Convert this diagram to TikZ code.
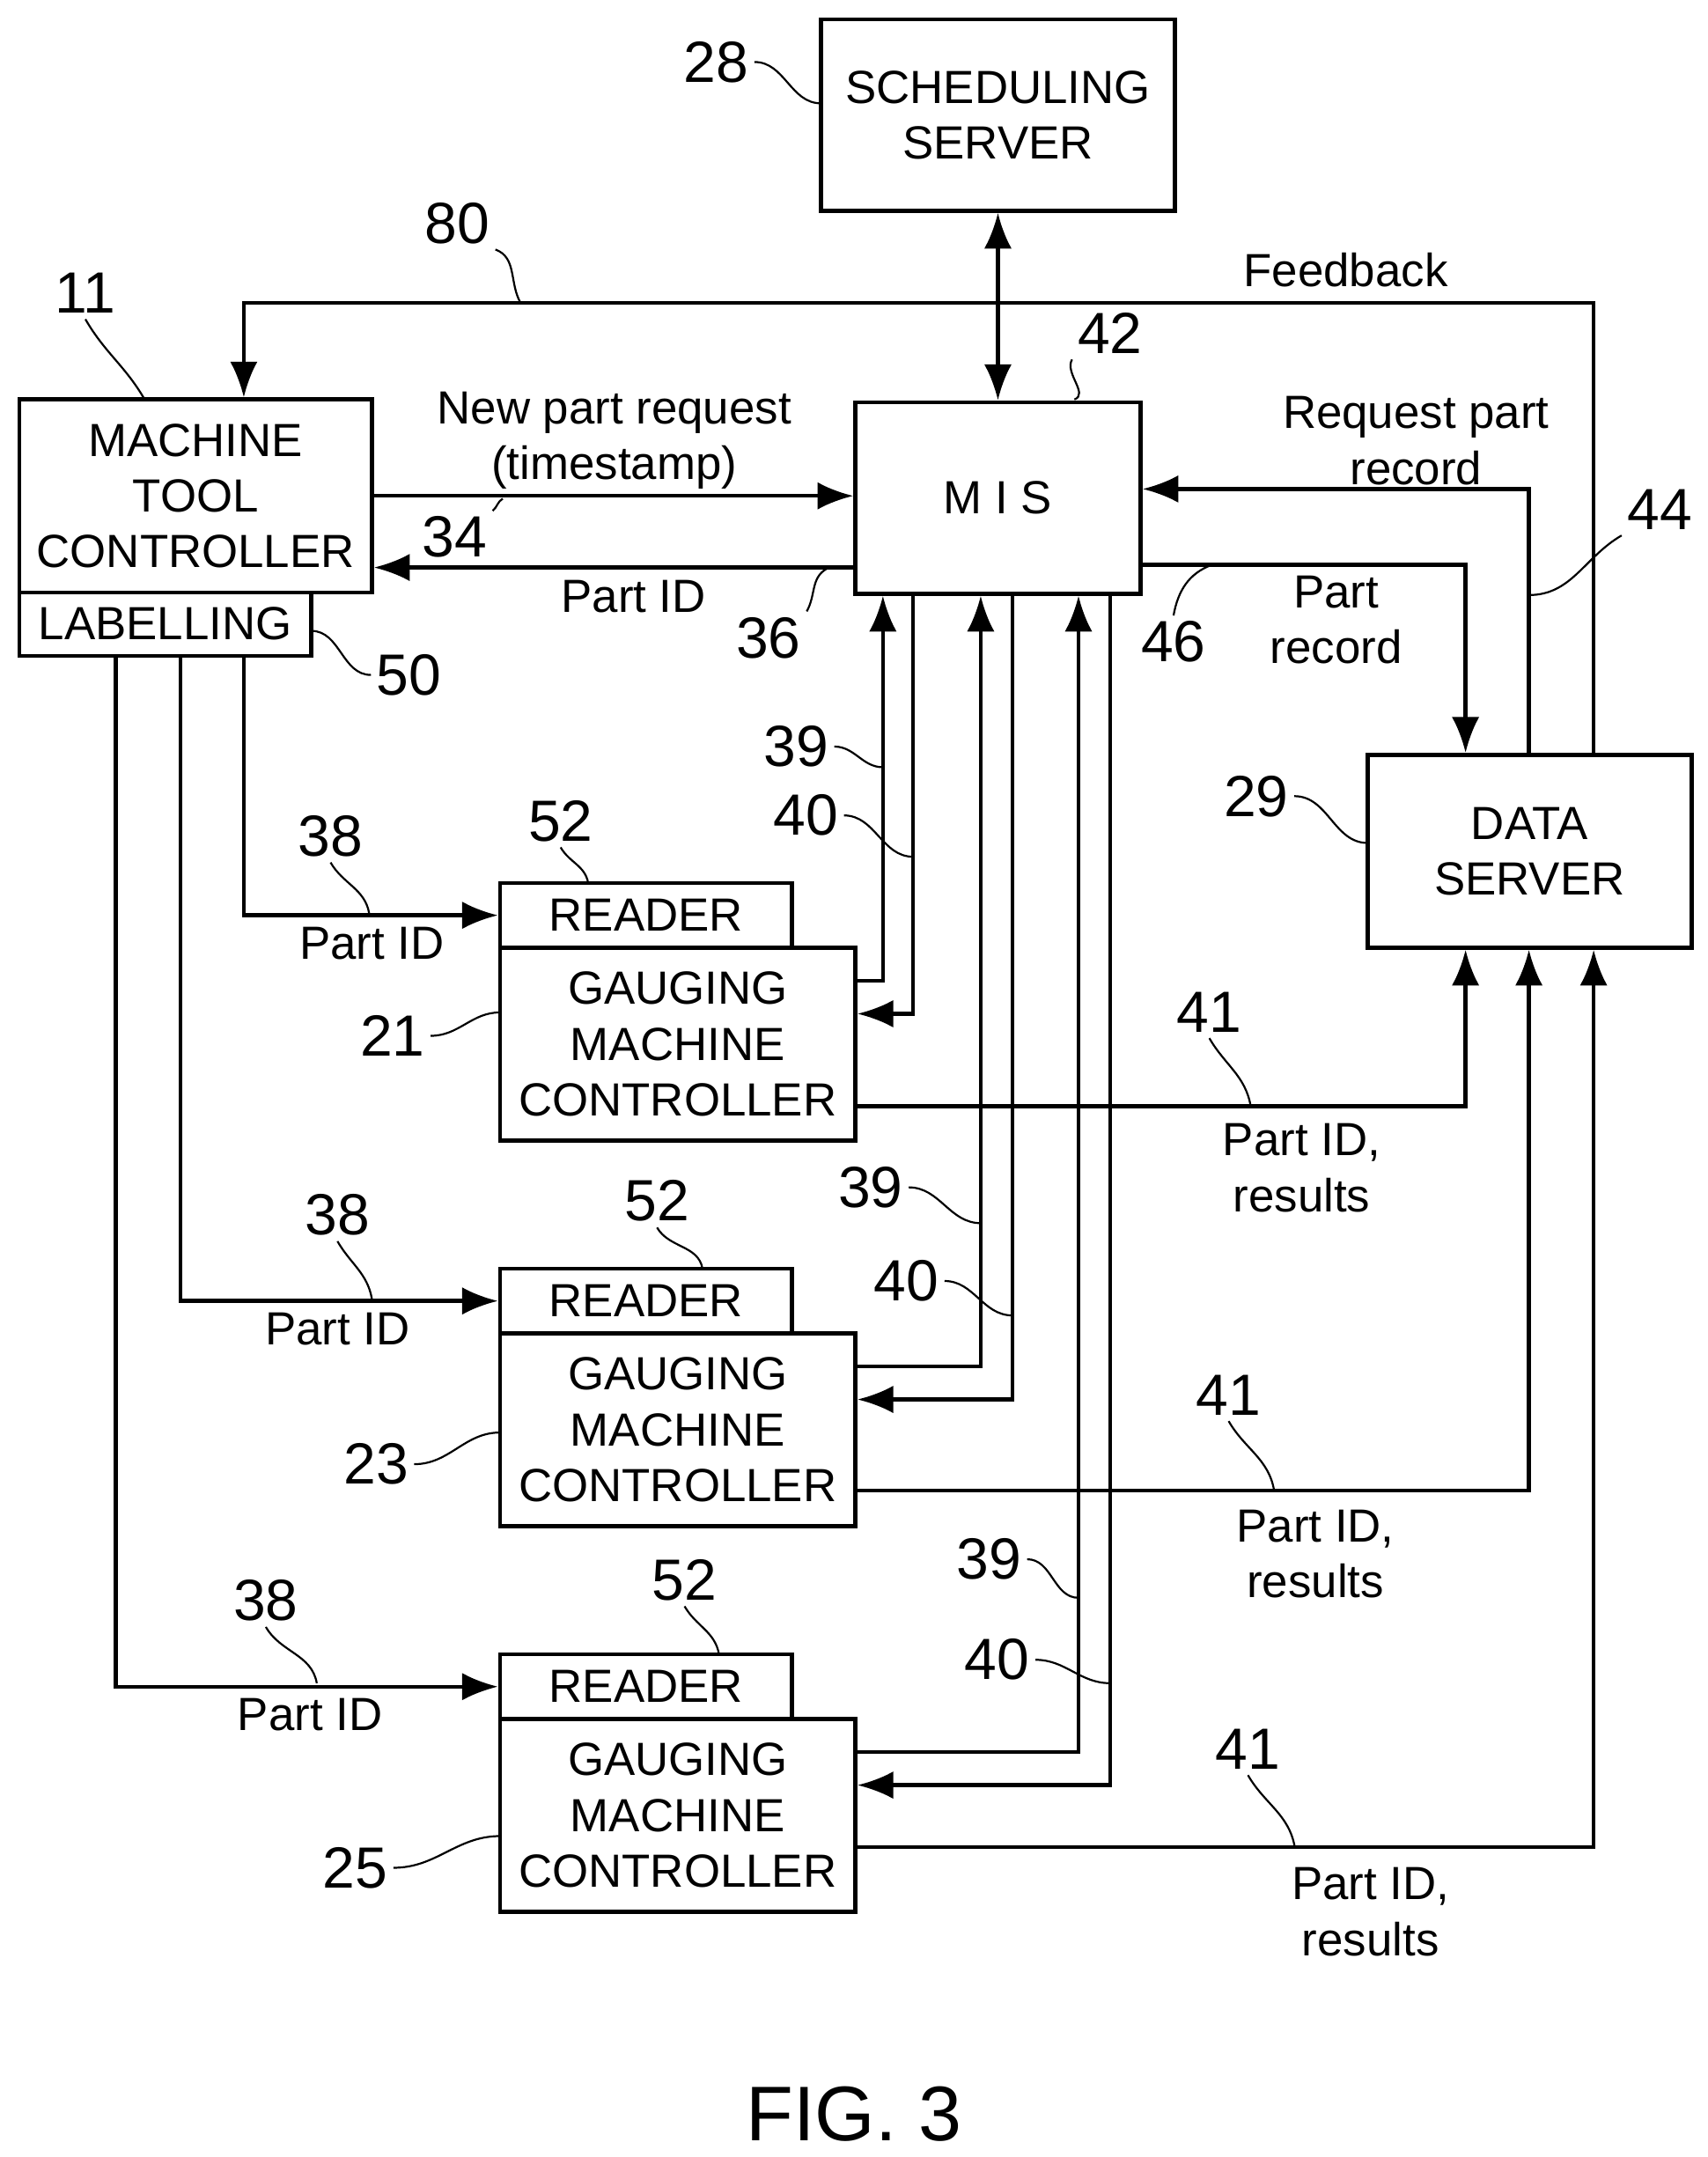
\documentclass[tikz,border=0pt]{standalone}
\usepackage{fontspec}
\setmainfont{Liberation Sans}
\usetikzlibrary{arrows.meta,positioning}
\tikzset{
    block/.style = {draw, thick, rectangle, align=center, inner sep=0pt},
    lbl/.style = {align=center, inner sep=1pt},
    num/.style = {inner sep=1pt, font=\fontsize{12}{14}\selectfont},
    arrow/.style = {draw, thick, -{Latex[length=2.6mm,width=2mm]}},
    biarrow/.style = {draw, thick, {Latex[length=2.6mm,width=2mm]}-{Latex[length=2.6mm,width=2mm]}},
    lead/.style = {draw, thin}
}
\begin{document}
\begin{tikzpicture}[x=0.01cm, y=-0.01cm, font=\fontsize{9.6}{11.5}\selectfont]
    \useasboundingbox (0,0) rectangle (1240,1566);
    % boxes
    \node [block, minimum width=2.57cm, minimum height=1.39cm] (sched) at (724.5,83.5) {SCHEDULING\\SERVER};
    \node [block, minimum width=2.07cm, minimum height=1.39cm] (mis) at (724.5,361.5) {M I S};
    \node [block, minimum width=2.56cm, minimum height=1.40cm] (mtc) at (142,360) {MACHINE\\TOOL\\CONTROLLER};
    \node [block, minimum width=2.12cm, minimum height=0.46cm] (lab) at (120,453) {LABELLING};
    \node [block, minimum width=2.35cm, minimum height=1.40cm] (data) at (1110.5,618) {DATA\\SERVER};
    \foreach \i/\y/\n in {1/641/21, 2/921/23, 3/1201/25}{
        \node [block, minimum width=2.12cm, minimum height=0.47cm] (read\i) at (469,\y+23.5) {READER};
        \node [block, minimum width=2.58cm, minimum height=1.40cm] (gauge\i) at (492,\y+117) {GAUGING\\MACHINE\\CONTROLLER};
    }
    % scheduling and feedback
    \draw [biarrow] (sched) -- (mis);
    \draw [arrow] (data.north -| 1157,0) |- (177,220) -- (mtc.north -| 177,0);
    \node [lbl] (fbk) at (977,196) {Feedback};
    % MTC <-> MIS
    \draw [arrow] (mtc.east |- 0,360) -- (mis.west |- 0,360);
    \draw [arrow] (mis.west |- 0,412) -- (mtc.east |- 0,412);
    \node [lbl] (npr) at (446,320) {New part request\\(timestamp)};
    \node [lbl] (pid0) at (460,433) {Part ID};
    % MIS <-> data server
    \draw [arrow] (mis.east |- 0,410) -| (data.north -| 1064,0);
    \draw [arrow] (data.north -| 1110,0) |- (mis.east |- 0,355);
    \node [lbl] (prec) at (970,450) {Part\\record};
    \node [lbl] (rpr) at (1028,320) {Request part\\record};
    % labelling to readers
    \draw [arrow] (lab.south -| 177,0) |- (read1.west);
    \draw [arrow] (lab.south -| 131,0) |- (read2.west);
    \draw [arrow] (lab.south -| 84,0) |- (read3.west);
    \node [lbl] (pid1) at (270,685) {Part ID};
    \node [lbl] (pid2) at (245,965) {Part ID};
    \node [lbl] (pid3) at (225,1245) {Part ID};
    % gauging <-> MIS
    \foreach \i/\y/\u/\d in {1/712/641/663, 2/992/712/735, 3/1272/783/806}{
        \draw [arrow] (gauge\i.east |- 0,\y) -| (mis.south -| \u,0);
        \draw [arrow] (mis.south -| \d,0) |- (gauge\i.east |- 0,\y+24);
    }
    % gauging to data server
    \draw [arrow] (gauge1.east |- 0,803) -| (data.south -| 1064,0);
    \draw [arrow] (gauge2.east |- 0,1082) -| (data.south -| 1110,0);
    \draw [arrow] (gauge3.east |- 0,1341) -| (data.south -| 1157,0);
    \node [lbl] (res1) at (945,848) {Part ID,\\results};
    \node [lbl] (res2) at (955,1128) {Part ID,\\results};
    \node [lbl] (res3) at (995,1388) {Part ID,\\results};
    % reference numerals
    \node [num] (n28) at (520,45) {28};
    \draw [lead] (n28.east) to[out=0,in=180] (596,75);
    \node [num] (n80) at (332,162) {80};
    \draw [lead] (n80.south east) to[out=-20,in=120] (378,220);
    \node [num] (n11) at (62,213) {11};
    \draw [lead] (n11.south) to[out=-60,in=120] (105,290);
    \node [num] (n42) at (806,242) {42};
    \draw [lead] (n42.south west) to[out=-120,in=20] (780,290);
    \node [num] (n34) at (330,390) {34};
    \draw [lead] (n34.north east) to[out=40,in=-150] (365,362);
    \node [num] (n36) at (558,463) {36};
    \draw [lead] (n36.north east) to[out=60,in=-150] (600,413);
    \node [num] (n46) at (852,466) {46};
    \draw [lead] (n46.north) to[out=80,in=-160] (880,410);
    \node [num] (n44) at (1205,370) {44};
    \draw [lead] (n44.south west) to[out=-150,in=0] (1110,432);
    \node [num] (n29) at (912,578) {29};
    \draw [lead] (n29.east) to[out=0,in=180] (993,612);
    \node [num] (n50) at (297,490) {50};
    \draw [lead] (n50.west) to[out=180,in=0] (226,458);
    \foreach \x/\y/\tx/\ty [count=\k] in {240/607/268/663, 245/882/270/943, 193/1162/230/1222}{
        \node [num] (n38\k) at (\x,\y) {38};
        \draw [lead] (n38\k.south) to[out=-60,in=100] (\tx,\ty);
    }
    \foreach \x/\y/\tx/\ty [count=\k] in {407/596/427/641, 477/872/510/921, 497/1147/522/1201}{
        \node [num] (n52\k) at (\x,\y) {52};
        \draw [lead] (n52\k.south) to[out=-60,in=100] (\tx,\ty);
    }
    \foreach \x/\y/\tx/\ty [count=\k] in {578/542/641/557, 632/862/712/888, 718/1132/783/1160}{
        \node [num] (n39\k) at (\x,\y) {39};
        \draw [lead] (n39\k.east) to[out=0,in=180] (\tx,\ty);
    }
    \foreach \x/\y/\tx/\ty [count=\k] in {585/592/663/622, 658/930/735/955, 724/1205/806/1222}{
        \node [num] (n40\k) at (\x,\y) {40};
        \draw [lead] (n40\k.east) to[out=0,in=180] (\tx,\ty);
    }
    \foreach \x/\y/\tx/\ty [count=\k] in {878/735/908/803, 892/1013/925/1082, 906/1270/940/1341}{
        \node [num] (n41\k) at (\x,\y) {41};
        \draw [lead] (n41\k.south) to[out=-60,in=100] (\tx,\ty);
    }
    \foreach \x/\y/\tx/\ty [count=\k] in {285/752/363/735, 273/1063/363/1040, 258/1356/363/1333}{
        \node [num] (ng\k) at (\x,\y) {\ifcase\k\or 21\or 23\or 25\fi};
        \draw [lead] (ng\k.east) to[out=0,in=180] (\tx,\ty);
    }
    \node [font=\fontsize{16}{19}\selectfont] (fig) at (620,1535) {FIG. 3};
\end{tikzpicture}
\end{document}
